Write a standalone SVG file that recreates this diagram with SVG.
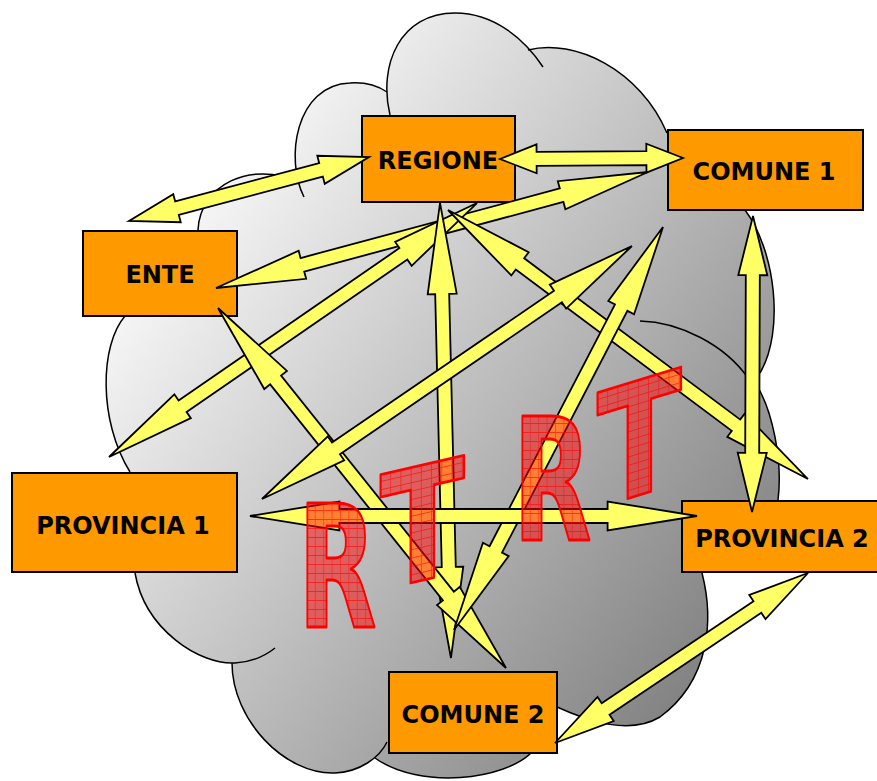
<svg xmlns="http://www.w3.org/2000/svg" width="877" height="781" viewBox="0 0 877 781">
<defs>
<linearGradient id="cloudGrad" gradientUnits="userSpaceOnUse" x1="200" y1="200" x2="780" y2="640">
<stop offset="0" stop-color="#f6f6f6"/>
<stop offset="1" stop-color="#7c7c7c"/>
</linearGradient>
<pattern id="hatch" patternUnits="userSpaceOnUse" width="14" height="9">
<rect width="14" height="9" fill="#ff0000" fill-opacity="0.5"/>
<path d="M0,0.5H14M0.5,0V9" stroke="#ff0000" stroke-opacity="0.6" stroke-width="1.2" fill="none"/>
</pattern>
<path id="arr" class="arrow" d="M0,0 L0.2,-14.5 L0.2,-7 L0.8,-7 L0.8,-14.5 L1,0 L0.8,14.5 L0.8,7 L0.2,7 L0.2,14.5 Z"/>
</defs>
<style>
.lobe{fill:none;stroke:#000;stroke-width:1.5}
.arrow{fill:#ffff66;stroke:#000;stroke-width:1.8;vector-effect:non-scaling-stroke}
.node rect{fill:#ff9900;stroke:#000;stroke-width:2}
.node text{font-family:"DejaVu Sans","Liberation Sans",sans-serif;font-weight:bold;font-size:24px;fill:#000;text-anchor:middle}
.rt{font-family:"DejaVu Sans","Liberation Sans",sans-serif;font-weight:bold;font-size:170px;fill:url(#hatch);stroke:#ff0000;stroke-width:3;stroke-linejoin:round;stroke-linecap:round}
</style>

<g id="cloud">
<path fill="url(#cloudGrad)" stroke="none" d="M198,230 C200,185 250,160 300,182 L304,197 C285,160 295,85 350,83 C365,82 378,86 387,92 L390,115 C378,65 400,13 455,13 C495,13 525,40 543,67 L528,50 C575,38 640,70 667,133 L745,210 C775,250 785,330 760,373 L757,386 C772,410 783,460 778,500 L702,573 C714,620 710,680 660,717 C630,735 590,722 557,707 L532,752 C505,780 420,790 375,758 L387,742 C380,757 360,772 335,773 C285,775 232,720 232,663 C200,665 145,630 135,573 L130,472 C98,420 100,345 125,316 Z"/>
<path class="lobe" d="M304,197 C285,160 295,85 350,83 C365,82 378,86 387,92"/>
<path class="lobe" d="M390,115 C378,65 400,13 455,13 C495,13 525,40 543,67"/>
<path class="lobe" d="M528,50 C575,38 640,70 667,133"/>
<path class="lobe" d="M745,210 C775,250 785,330 760,373"/>
<path class="lobe" d="M757,386 C772,410 783,460 778,500"/>
<path class="lobe" d="M702,573 C714,620 710,680 660,717 C630,735 590,722 557,707"/>
<path class="lobe" d="M532,752 C505,780 420,790 375,758"/>
<path class="lobe" d="M232,663 C232,720 285,775 335,773 C360,772 380,757 387,742"/>
<path class="lobe" d="M125,316 C100,345 98,420 130,472"/>
<path class="lobe" d="M135,573 C145,630 200,665 235,663 C252,662 265,656 275,648"/>
<path class="lobe" d="M198,230 C200,185 250,160 300,182"/>
<path class="lobe" d="M640,321 C680,322 725,345 748,378"/>
</g>

<g id="node-regione" class="node">
<rect x="362" y="116" width="153" height="86"/>
<text x="438" y="169">REGIONE</text>
</g>
<g id="node-comune1" class="node">
<rect x="668" y="130" width="195" height="80"/>
<text x="764" y="180">COMUNE 1</text>
</g>
<g id="node-ente" class="node">
<rect x="83" y="231" width="154" height="85"/>
<text x="160" y="283">ENTE</text>
</g>
<g id="node-provincia1" class="node">
<rect x="12" y="473" width="225" height="99"/>
<text x="123" y="534">PROVINCIA 1</text>
</g>
<g id="node-provincia2" class="node">
<rect x="682" y="501" width="200" height="71"/>
<text x="782" y="547">PROVINCIA 2</text>
</g>
<g id="node-comune2" class="node">
<rect x="389" y="672" width="168" height="81"/>
<text x="473" y="723">COMUNE 2</text>
</g>

<g id="connectors">
<use href="#arr" transform="translate(129,221) rotate(-14.93) scale(248.4,1)"/>
<use href="#arr" transform="translate(500,159) rotate(-0.31) scale(183,1)"/>
<use href="#arr" transform="translate(216,288) rotate(-15.03) scale(447.3,1)"/>
<use href="#arr" transform="translate(109,457) rotate(-34.61) scale(447.1,1)"/>
<use href="#arr" transform="translate(440,203) rotate(88.62) scale(455.1,1)"/>
<use href="#arr" transform="translate(448,210) rotate(36.77) scale(449.4,1)"/>
<use href="#arr" transform="translate(218,308) rotate(51.34) scale(461,1)"/>
<use href="#arr" transform="translate(262,499) rotate(-34.37) scale(448.2,1)"/>
<use href="#arr" transform="translate(663,227) rotate(117.41) scale(454,1)"/>
<use href="#arr" transform="translate(250,516) scale(447,1)"/>
<use href="#arr" transform="translate(753,216) rotate(90.19) scale(296,1)"/>
<use href="#arr" transform="translate(808,573) rotate(146.1) scale(304.8,1)"/>
</g>

<g id="rt-marks">
<text class="rt" transform="translate(298,627) scale(0.6,1)">R</text>
<text class="rt" transform="translate(380,590) skewY(-13) scale(0.73,0.93)">T</text>
<text class="rt" transform="translate(513,540) scale(0.6,1)">R</text>
<text class="rt" transform="translate(597,508) skewY(-17) scale(0.73,0.93)">T</text>
</g>
</svg>
